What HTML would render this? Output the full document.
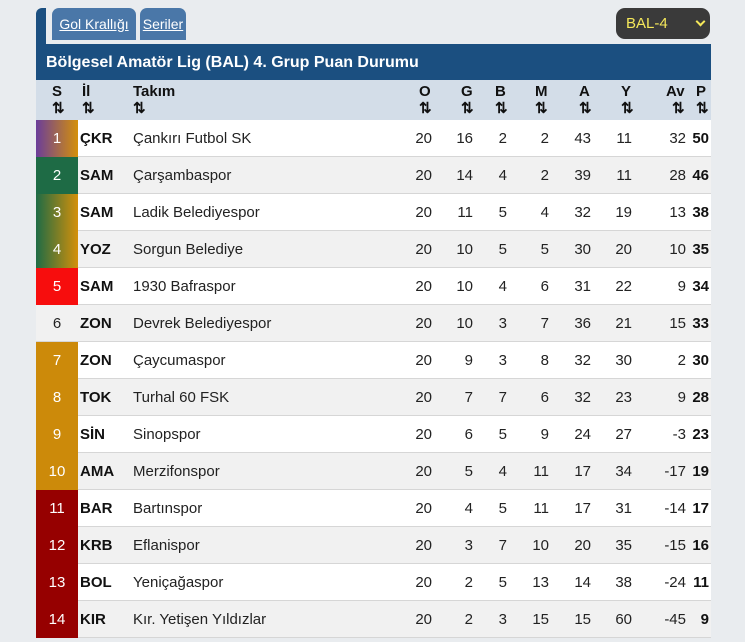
<!DOCTYPE html><html><head><meta charset="utf-8"><style>
body{margin:0;width:745px;height:642px;background:#e9ecef;font-family:"Liberation Sans",sans-serif;position:relative;overflow:hidden}
.a{position:absolute}
.tab{position:absolute;top:8px;height:32px;background:#4a77a8;border-radius:7px 7px 0 0;color:#fff;font-size:14px;line-height:32px;text-align:center;text-decoration:underline}
.row{position:absolute;left:36px;width:675px;height:36px;border-bottom:1px solid #d6d6d6;font-size:15px;color:#222}
.row div{position:absolute;top:0;line-height:37px}
.s{left:0;width:42px;text-align:center;color:#fff}
.il{left:44px;font-weight:bold;color:#111}
.tk{left:97px}
.n{text-align:right;width:40px}
.h div{position:absolute;font-weight:bold;font-size:15px;color:#111;line-height:17px}
</style></head><body>
<div class="a" style="left:36px;top:8px;width:10px;height:40px;background:#1b4f80;border-radius:6px 0 0 0"></div>
<div class="tab" style="left:52px;width:84px">Gol Krallığı</div>
<div class="tab" style="left:140px;width:46px">Seriler</div>
<div class="a" style="left:616px;top:8px;width:94px;height:31px;background:#3a3a3a;border-radius:9px;color:#f5e85a;font-size:15px;line-height:31px"><span style="position:absolute;left:10px">BAL-4</span><span style="position:absolute;left:81px;top:10px;width:5px;height:5px;border-right:2px solid #f5e85a;border-bottom:2px solid #f5e85a;transform:rotate(45deg)"></span></div>
<div class="a" style="left:36px;top:44px;width:675px;height:36px;background:#1b4f80;color:#fff;font-weight:bold;font-size:16px;line-height:38px;text-indent:10px">Bölgesel Amatör Lig (BAL) 4. Grup Puan Durumu</div>
<div class="a h" style="left:36px;top:80px;width:675px;height:40px;background:#d3dde8">
<div style="left:16px;top:3px">S<br>⇅</div><div style="left:46px;top:3px">İl<br>⇅</div><div style="left:97px;top:3px">Takım<br>⇅</div>
<div style="left:383px;top:3px">O<br>⇅</div><div style="left:425px;top:3px">G<br>⇅</div><div style="left:459px;top:3px">B<br>⇅</div><div style="left:499px;top:3px">M<br>⇅</div><div style="left:543px;top:3px">A<br>⇅</div><div style="left:585px;top:3px">Y<br>⇅</div><div style="left:630px;top:3px;text-align:right">Av<br>&nbsp;⇅</div><div style="left:660px;top:3px">P<br>⇅</div>
</div>
<div id="rows"></div>
<script>
var d=[["ÇKR","Çankırı Futbol SK",20,16,2,2,43,11,32,50,"linear-gradient(90deg,#6b3d9a,#d4900a)"],
["SAM","Çarşambaspor",20,14,4,2,39,11,28,46,"#1e6b45"],
["SAM","Ladik Belediyespor",20,11,5,4,32,19,13,38,"linear-gradient(90deg,#1e6b45,#d4900a)"],
["YOZ","Sorgun Belediye",20,10,5,5,30,20,10,35,"linear-gradient(90deg,#1e6b45,#d4900a)"],
["SAM","1930 Bafraspor",20,10,4,6,31,22,9,34,"#f70d0d"],
["ZON","Devrek Belediyespor",20,10,3,7,36,21,15,33,""],
["ZON","Çaycumaspor",20,9,3,8,32,30,2,30,"#cc8a0a"],
["TOK","Turhal 60 FSK",20,7,7,6,32,23,9,28,"#cc8a0a"],
["SİN","Sinopspor",20,6,5,9,24,27,-3,23,"#cc8a0a"],
["AMA","Merzifonspor",20,5,4,11,17,34,-17,19,"#cc8a0a"],
["BAR","Bartınspor",20,4,5,11,17,31,-14,17,"#960000"],
["KRB","Eflanispor",20,3,7,10,20,35,-15,16,"#960000"],
["BOL","Yeniçağaspor",20,2,5,13,14,38,-24,11,"#960000"],
["KIR","Kır. Yetişen Yıldızlar",20,2,3,15,15,60,-45,9,"#960000"]];
var R=[396,437,471,513,555,596,650],h="";
d.forEach(function(r,i){var bg=i%2?"#f1f1f1":"#fff";
h+='<div class="row" style="top:'+(120+i*37)+'px;background:'+bg+'"><div class="s" style="background:'+(r[10]||"transparent")+';color:'+(r[10]?"#fff":"#222")+'">'+(i+1)+'</div><div class="il">'+r[0]+'</div><div class="tk">'+r[1]+'</div>';
for(var k=0;k<7;k++)h+='<div class="n" style="left:'+(R[k]-40)+'px">'+r[2+k]+'</div>';
h+='<div class="n" style="left:633px;font-weight:bold;color:#111">'+r[9]+'</div></div>';});
document.getElementById("rows").innerHTML=h;
</script>
</body></html>
